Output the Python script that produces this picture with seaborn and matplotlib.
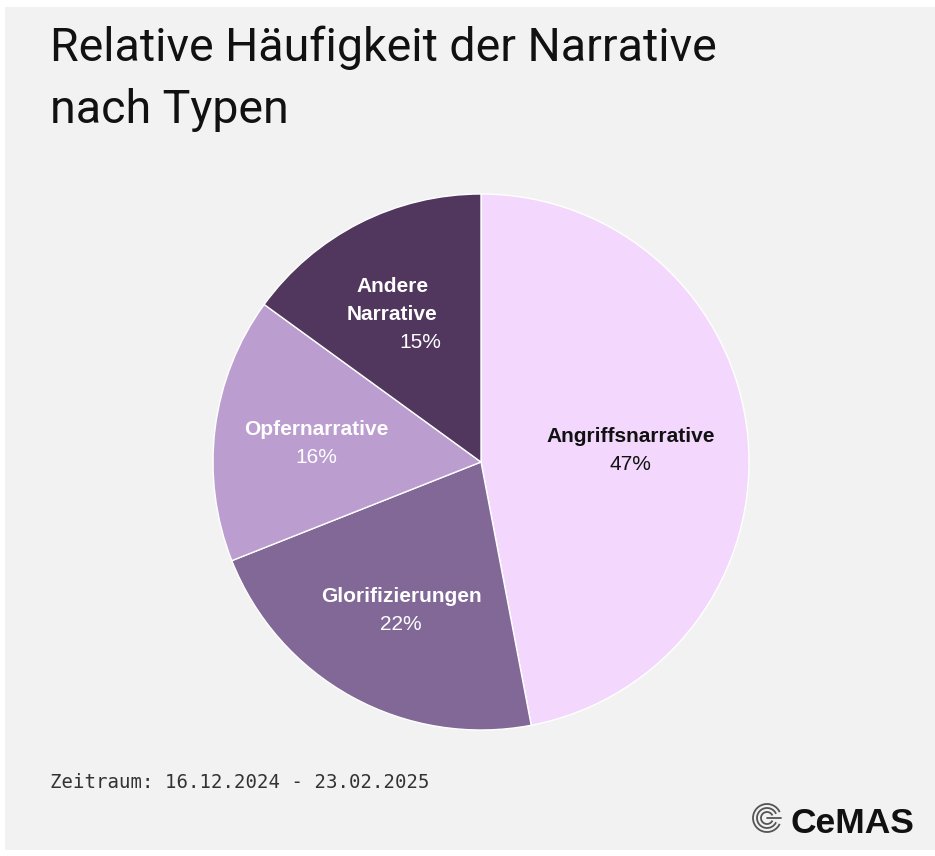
import matplotlib.pyplot as plt
import matplotlib.patches as mpatches
import numpy as np
import seaborn as sns

# data
kategorien = ["Angriffsnarrative", "Glorifizierungen", "Opfernarrative", "Andere\nNarrative"]
anteile = [47, 22, 16, 15]
farben = ["#f3d7fc", "#826896", "#bb9dcf", "#51365e"]
textfarben = ["#111111", "white", "white", "white"]

titel = "Relative Häufigkeit der Narrative\nnach Typen"
zeitraum = "Zeitraum: 16.12.2024 - 23.02.2025"

sns.set_theme(style="white")
plt.rcParams['font.family'] = ['Liberation Sans', 'DejaVu Sans']

W, H = 935, 856
fig = plt.figure(figsize=(W / 100, H / 100), dpi=100)
fig.patch.set_facecolor("white")

# grauer Hintergrund
fig.patches.append(mpatches.Rectangle((5 / W, 6 / H), 1 - 5 / W, 1 - 13 / H,
                                      transform=fig.transFigure, facecolor="#f2f2f2",
                                      edgecolor="none", zorder=-10))

fig.text(50 / W, 1 - 26 / H, titel, ha="left", va="top", fontsize=33.5,
         color="#111111", linespacing=1.5, family=['Roboto', 'DejaVu Sans'])

# Kreisdiagramm
cx, cy, r = 481, 462, 268
ax = fig.add_axes([(cx - r) / W, (H - cy - r) / H, 2 * r / W, 2 * r / H])
ax.set_facecolor("none")
wedges, _ = ax.pie(anteile, colors=farben, startangle=90, counterclock=False,
                   wedgeprops=dict(edgecolor="white", linewidth=1))
ax.set_xlim(-1, 1)
ax.set_ylim(-1, 1)
ax.set_aspect("equal")

abst = [0.56, 0.62, 0.62, 0.63]
schritt = 28 / r   # Zeilenabstand in Dateneinheiten
for w, name, wert, tc, d in zip(wedges, kategorien, anteile, textfarben, abst):
    ang = np.deg2rad((w.theta1 + w.theta2) / 2)
    x, y = d * np.cos(ang), d * np.sin(ang)
    zeilen = name.split("\n")
    L = len(zeilen) + 1
    b = y + (L - 1) / 2 * schritt - 0.031
    dx_name, dx_pct = (-0.045, 0.06) if len(zeilen) > 1 else (0, 0)
    for z in zeilen:
        ax.text(x + dx_name, b, z, ha="center", va="baseline",
                fontsize=15, fontweight="bold", color=tc)
        b -= schritt
    ax.text(x + dx_pct, b, f"{wert}%", ha="center", va="baseline",
            fontsize=15, color=tc)

fig.text(50 / W, 1 - 788 / H, zeitraum, ha="left", va="baseline", fontsize=13.7,
         color="#333333", family=['DejaVu Sans Mono'])

# Logo
lx, ly = 767, 818
logo_ax = fig.add_axes([(lx - 16) / W, (H - ly - 16) / H, 32 / W, 32 / H])
logo_ax.set_xlim(-16, 16)
logo_ax.set_ylim(-16, 16)
logo_ax.set_aspect("equal")
logo_ax.axis("off")
for rr in [14, 10, 6]:
    logo_ax.add_patch(mpatches.Arc((0, 0), 2 * rr, 2 * rr, theta1=25, theta2=335,
                                   color="#555555", linewidth=1.3))
logo_ax.plot([0, 14], [0, 0], color="#555555", linewidth=1.3)
fig.text(790 / W, 1 - 833 / H, "CeMAS", ha="left", va="baseline", fontsize=25.5,
         fontweight="bold", color="#111111")

fig.savefig("out.png", dpi=100, facecolor=fig.get_facecolor())
